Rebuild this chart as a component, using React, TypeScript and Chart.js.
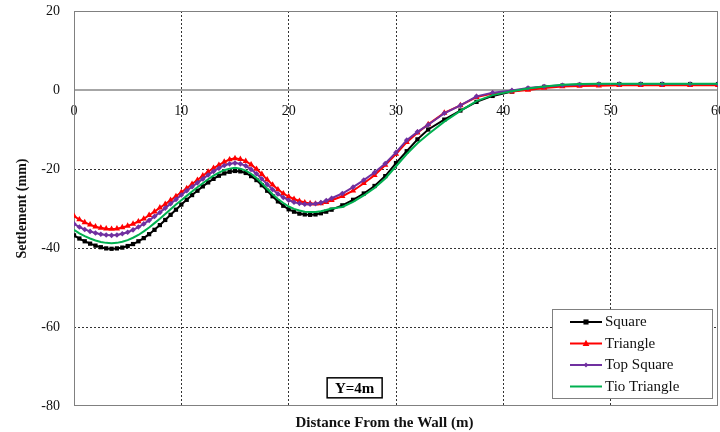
import React, { useEffect, useRef } from 'react';
import { Chart, registerables } from 'chart.js';

Chart.register(...registerables);

const SERIF = '"Liberation Serif", "Times New Roman", serif';

const seriesNames = ['Square', 'Triangle', 'Top Square', 'Tio Triangle'];
const xTitle = 'Distance From the Wall (m)';
const yTitle = 'Settlement (mm)';
const annotationText = 'Y=4m';

const distances = [
  0, 0.5, 1, 1.5, 2, 2.5, 3, 3.5, 4, 4.5, 5, 5.5, 6, 6.5, 7, 7.5, 8, 8.5, 9, 9.5,
  10, 10.5, 11, 11.5, 12, 12.5, 13, 13.5, 14, 14.5, 15, 15.5, 16, 16.5, 17, 17.5, 18, 18.5, 19, 19.5,
  20, 20.5, 21, 21.5, 22, 22.5, 23, 23.5, 24,
  25, 26, 27, 28, 29, 30, 31, 32, 33, 34.5, 36, 37.5, 39,
  40.8, 42.3, 43.8, 45.5, 47.1, 48.9, 50.8, 52.8, 54.8, 57.4, 60,
];

const squareVals = [
  -36.8, -37.6, -38.3, -38.9, -39.4, -39.8, -40.1, -40.2, -40.1, -39.9, -39.5, -39.0, -38.3, -37.5, -36.5, -35.4, -34.2, -32.9, -31.6, -30.3,
  -29.0, -27.8, -26.6, -25.5, -24.4, -23.4, -22.5, -21.7, -21.1, -20.7, -20.5, -20.6, -21.0, -21.8, -22.8, -24.1, -25.5, -26.9, -28.2, -29.3,
  -30.2, -30.8, -31.3, -31.5, -31.6, -31.5, -31.2, -30.8, -30.3,
  -29.2, -27.8, -26.2, -24.3, -21.8, -18.5, -15.5, -12.5, -10.0, -7.5, -5.2, -3.0, -1.5,
  -0.4, 0.3, 0.8, 1.1, 1.3, 1.4, 1.5, 1.5, 1.5, 1.5, 1.5,
];

const triangleVals = [
  -31.9, -32.8, -33.5, -34.1, -34.6, -34.9, -35.1, -35.2, -35.1, -34.8, -34.4, -33.9, -33.3, -32.6, -31.7, -30.8, -29.8, -28.9, -27.9, -26.9,
  -25.9, -24.9, -23.8, -22.8, -21.7, -20.7, -19.8, -19.0, -18.2, -17.6, -17.3, -17.5, -18.0, -18.9, -20.0, -21.3, -22.7, -24.0, -25.2, -26.2,
  -27.0, -27.6, -28.1, -28.5, -28.7, -28.8, -28.7, -28.4, -27.9,
  -26.9, -25.5, -23.6, -21.6, -19.0, -16.2, -13.2, -10.8, -8.7, -5.8, -3.9, -1.8, -0.9,
  -0.4, 0.0, 0.5, 0.9, 1.0, 1.1, 1.2, 1.2, 1.2, 1.2, 1.2,
];

const topSquareVals = [
  -33.9, -34.7, -35.3, -35.8, -36.2, -36.5, -36.7, -36.8, -36.7, -36.4, -36.0, -35.4, -34.7, -33.9, -33.0, -32.0, -31.0, -29.9, -28.8, -27.7,
  -26.6, -25.5, -24.5, -23.5, -22.5, -21.5, -20.6, -19.8, -19.1, -18.7, -18.5, -18.7, -19.2, -20.1, -21.2, -22.5, -23.9, -25.2, -26.3, -27.2,
  -27.9, -28.4, -28.7, -28.9, -28.9, -28.8, -28.5, -28.0, -27.4,
  -26.2, -24.6, -22.8, -20.9, -18.6, -15.8, -12.7, -10.6, -8.8, -5.9, -3.9, -1.6, -0.7,
  -0.1, 0.5, 0.9, 1.2, 1.4, 1.5, 1.5, 1.5, 1.5, 1.5, 1.5,
];

const tioTriangleVals = [
  -35.4, -36.3, -37.0, -37.6, -38.1, -38.5, -38.7, -38.8, -38.7, -38.4, -38.0, -37.4, -36.7, -35.8, -34.8, -33.7, -32.6, -31.4, -30.2, -29.0,
  -27.9, -26.8, -25.7, -24.6, -23.6, -22.6, -21.7, -20.9, -20.3, -19.9, -19.7, -19.9, -20.4, -21.2, -22.3, -23.6, -25.0, -26.4, -27.6, -28.6,
  -29.5, -30.1, -30.5, -30.8, -30.9, -30.9, -30.7, -30.4, -30.0,
  -29.6, -28.3, -26.7, -24.8, -22.4, -19.3, -16.2, -13.5, -11.2, -8.0, -5.3, -2.8, -1.3,
  -0.3, 0.4, 0.9, 1.3, 1.5, 1.6, 1.6, 1.6, 1.6, 1.6, 1.6,
];

const seriesValues = [squareVals, triangleVals, topSquareVals, tioTriangleVals];
const seriesColors = ['#000000', '#ff0000', '#7030a0', '#00b050'];
const seriesMarkers = ['rect', 'triangle', 'rectRot', 'none'];
const seriesRadius = [3, 3.6, 2.8, 0];
const seriesOrder = [3, 2, 1, 0];

const xTicks = [0, 10, 20, 30, 40, 50, 60];
const yTicks = [20, 0, -20, -40, -60, -80];

function drawMarker(ctx: CanvasRenderingContext2D, kind: string, x: number, y: number, r: number, color: string) {
  ctx.fillStyle = color;
  ctx.beginPath();
  if (kind === 'rect') {
    ctx.rect(x - r, y - r, 2 * r, 2 * r);
  } else if (kind === 'triangle') {
    ctx.moveTo(x, y - r * 1.2);
    ctx.lineTo(x + r * 1.1, y + r * 0.8);
    ctx.lineTo(x - r * 1.1, y + r * 0.8);
    ctx.closePath();
  } else if (kind === 'rectRot') {
    ctx.moveTo(x, y - r);
    ctx.lineTo(x + r, y);
    ctx.lineTo(x, y + r);
    ctx.lineTo(x - r, y);
    ctx.closePath();
  } else {
    return;
  }
  ctx.fill();
}

const decorPlugin = {
  id: 'decor',
  beforeDatasetsDraw(chart: any) {
    const { ctx, chartArea: a, scales } = chart;
    const y0 = scales.y.getPixelForValue(0);
    ctx.save();
    ctx.strokeStyle = '#a6a6a6';
    ctx.lineWidth = 2;
    ctx.beginPath();
    ctx.moveTo(a.left, y0);
    ctx.lineTo(a.right, y0);
    ctx.stroke();
    ctx.strokeStyle = '#808080';
    ctx.lineWidth = 1;
    ctx.strokeRect(a.left + 0.5, a.top + 0.5, a.right - a.left - 1, a.bottom - a.top - 1);
    ctx.restore();
  },
  afterDatasetsDraw(chart: any) {
    const { ctx, chartArea: a, scales } = chart;
    ctx.save();
    // legend
    const lx = a.right - 166;
    const ly = a.bottom - 97;
    const lw = 160;
    const lh = 89;
    ctx.fillStyle = '#ffffff';
    ctx.fillRect(lx, ly, lw, lh);
    ctx.strokeStyle = '#808080';
    ctx.lineWidth = 1;
    ctx.strokeRect(lx + 0.5, ly + 0.5, lw, lh);
    ctx.font = `15px ${SERIF}`;
    ctx.textBaseline = 'middle';
    ctx.textAlign = 'left';
    for (let i = 0; i < seriesNames.length; i++) {
      const ry = ly + 13 + i * 21.5;
      ctx.strokeStyle = seriesColors[i];
      ctx.lineWidth = 2;
      ctx.beginPath();
      ctx.moveTo(lx + 18, ry);
      ctx.lineTo(lx + 50, ry);
      ctx.stroke();
      drawMarker(ctx, seriesMarkers[i], lx + 34, ry, seriesRadius[i] * 0.85, seriesColors[i]);
      ctx.fillStyle = '#111111';
      ctx.fillText(seriesNames[i], lx + 53, ry + 0.5);
    }
    // annotation box
    const cx = scales.x.getPixelForValue(26.1);
    const cy = scales.y.getPixelForValue(-75.4);
    ctx.font = `bold 15px ${SERIF}`;
    ctx.fillStyle = '#ffffff';
    ctx.fillRect(cx - 27, cy - 10, 55, 20);
    ctx.strokeStyle = '#000000';
    ctx.lineWidth = 1.5;
    ctx.strokeRect(cx - 27, cy - 10, 55, 20);
    ctx.fillStyle = '#000000';
    ctx.textAlign = 'center';
    ctx.fillText(annotationText, cx + 0.5, cy + 1);
    // x title
    ctx.font = `bold 15px ${SERIF}`;
    ctx.fillStyle = '#111111';
    ctx.textAlign = 'center';
    ctx.fillText(xTitle, a.left + (a.right - a.left) * 0.482, a.bottom + 17);
    ctx.restore();
  },
};

export default function App() {
  const ref = useRef<HTMLCanvasElement | null>(null);
  useEffect(() => {
    if (!ref.current) return;
    const datasets = seriesNames.map((name, i) => ({
      label: name,
      data: distances.map((d, j) => ({ x: d, y: seriesValues[i][j] })),
      borderColor: seriesColors[i],
      backgroundColor: seriesColors[i],
      borderWidth: 2,
      pointStyle: seriesMarkers[i] === 'none' ? 'circle' : seriesMarkers[i],
      pointRadius: seriesRadius[i],
      pointBorderWidth: 0,
      tension: 0,
      order: seriesOrder[i],
    }));
    const chart = new Chart(ref.current, {
      type: 'line',
      data: { datasets },
      options: {
        responsive: false,
        animation: false,
        devicePixelRatio: 1,
        layout: { padding: { left: 0, right: 0, top: 11, bottom: 26 } },
        plugins: { legend: { display: false }, tooltip: { enabled: false } },
        scales: {
          x: {
            type: 'linear',
            position: { y: 0 },
            min: xTicks[0],
            max: xTicks[xTicks.length - 1],
            afterBuildTicks: (s: any) => {
              s.ticks = xTicks.map((v) => ({ value: v }));
            },
            ticks: {
              padding: 13,
              color: '#111111',
              maxRotation: 0,
              autoSkip: false,
              font: { family: SERIF, size: 14 },
            },
            grid: {
              drawTicks: false,
              lineWidth: 1,
              color: (c: any) =>
                c.tick && (c.tick.value === 0 || c.tick.value === 60) ? 'rgba(0,0,0,0)' : '#333333',
            },
            border: { display: false, dash: [2, 2] },
            afterFit: (s: any) => {
              s.paddingLeft = 0;
              s.paddingRight = 0;
              s.paddingTop = 0;
              s.paddingBottom = 0;
            },
          } as any,
          y: {
            type: 'linear',
            min: yTicks[yTicks.length - 1],
            max: yTicks[0],
            afterBuildTicks: (s: any) => {
              s.ticks = yTicks.map((v) => ({ value: v }));
            },
            ticks: {
              padding: 14,
              color: '#111111',
              font: { family: SERIF, size: 14 },
            },
            grid: {
              drawTicks: false,
              lineWidth: 1,
              color: (c: any) =>
                c.tick && [-20, -40, -60].includes(c.tick.value) ? '#333333' : 'rgba(0,0,0,0)',
            },
            border: { display: false, dash: [2, 2] },
            title: {
              display: true,
              text: yTitle,
              color: '#111111',
              font: { family: SERIF, size: 14, weight: 'bold' },
              padding: { top: 14, bottom: 0 },
            },
            afterFit: (s: any) => {
              s.width = 74;
              s.paddingTop = 0;
              s.paddingBottom = 0;
              s.paddingLeft = 0;
              s.paddingRight = 0;
            },
          } as any,
        },
      },
      plugins: [decorPlugin],
    } as any);
    return () => chart.destroy();
  }, []);
  return (
    <div style={{ position: 'absolute', left: 0, top: 0, width: 720, height: 432, overflow: 'hidden', background: '#ffffff' }}>
      <canvas ref={ref} width={722} height={432} style={{ display: 'block' }} />
    </div>
  );
}
